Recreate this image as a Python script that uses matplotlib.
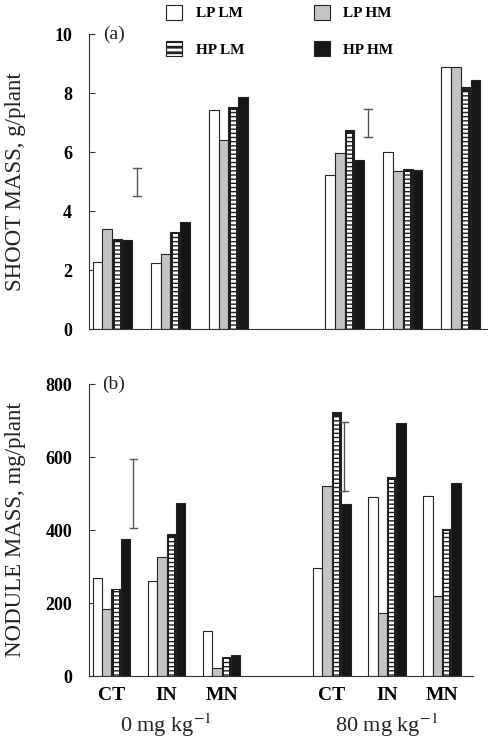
import numpy as np
import matplotlib
matplotlib.use("Agg")
import matplotlib.pyplot as plt
from matplotlib.patches import Patch
from matplotlib.legend_handler import HandlerTuple

plt.rcParams['font.family'] = ['Liberation Serif', 'DejaVu Serif']
plt.rcParams['mathtext.fontset'] = 'stix'
plt.rcParams['hatch.linewidth'] = 2.0

# data
group_pos = [0, 1, 2, 4, 5, 6]
categories = ['CT', 'IN', 'MN', 'CT', 'IN', 'MN']
series = ['LP LM', 'LP HM', 'HP LM', 'HP HM']

shoot = {
    'LP LM': [2.26, 2.23, 7.42, 5.22, 6.01, 8.87],
    'LP HM': [3.38, 2.56, 6.41, 5.98, 5.37, 8.87],
    'HP LM': [3.04, 3.30, 7.54, 6.75, 5.41, 8.21],
    'HP HM': [3.02, 3.64, 7.85, 5.73, 5.39, 8.46],
}
nodule = {
    'LP LM': [268, 260, 123, 296, 490, 493],
    'LP HM': [183, 327, 21, 520, 174, 218],
    'HP LM': [238, 388, 51, 724, 544, 404],
    'HP HM': [375, 473, 58, 472, 694, 530],
}
# LSD bars: (x position, low, high)
shoot_lsd = [(0.42, 4.52, 5.45), (4.41, 6.52, 7.45)]
nodule_lsd = [(0.40, 406, 595), (4.22, 507, 697)]

face = {'LP LM': 'white', 'LP HM': '#c4c4c4', 'HP LM': '#1e1e1e', 'HP HM': '#161616'}
width = 0.17
offsets = (np.arange(4) - 1.5) * width

fig = plt.figure(figsize=(4.88, 7.41), dpi=100)
ax1 = fig.add_axes([0.182, 0.556, 0.818, 0.398])
ax2 = fig.add_axes([0.182, 0.0877, 0.787, 0.394])


def draw_panel(ax, data, lsd, ylim, yticks, ylabel, tag):
    x = np.array(group_pos, dtype=float)
    for i, s in enumerate(series):
        ax.bar(x + offsets[i], data[s], width, color=face[s], edgecolor='#222222', linewidth=0.8, zorder=2)
        if s == 'HP LM':
            # white horizontal dashes inside the dark bar
            ax.bar(x + offsets[i], np.array(data[s]) * 0.985, width * 0.55, facecolor='none',
                   edgecolor='white', linewidth=0, hatch='----', zorder=3)
    for xp, lo, hi in lsd:
        ax.plot([xp, xp], [lo, hi], color='#555555', lw=1.0, zorder=4)
        for yy in (lo, hi):
            ax.plot([xp - 0.07, xp + 0.07], [yy, yy], color='#555555', lw=1.0, zorder=4)
    ax.set_ylim(*ylim)
    ax.set_yticks(yticks)
    ax.set_yticklabels([str(t) for t in yticks], fontweight='bold', fontsize=13)
    ax.tick_params(axis='y', direction='in', length=4, pad=12, color='#333333')
    ax.spines['top'].set_visible(False)
    ax.spines['right'].set_visible(False)
    ax.spines['left'].set_color('#333333')
    ax.spines['bottom'].set_color('#333333')
    ax.set_ylabel(ylabel, fontsize=16.5, color='#222222')
    ax.text(0.035, 1.0, tag, transform=ax.transAxes, fontsize=14, va='center', ha='left', color='#222222')


draw_panel(ax1, shoot, shoot_lsd, (0, 10), [0, 2, 4, 6, 8, 10], 'SHOOT MASS, g/plant', '(a)')
ax1.set_xlim(-0.405, 6.47)
ax1.set_xticks([])

draw_panel(ax2, nodule, nodule_lsd, (0, 800), [0, 200, 400, 600, 800], 'NODULE MASS, mg/plant', '(b)')
ax2.set_xlim(-0.41, 6.56)
ax2.set_xticks(group_pos)
ax2.set_xticklabels(categories, fontweight='bold', fontsize=14)
ax2.tick_params(axis='x', length=0, pad=8)
ax2.text(1, -0.216, '0 mg kg$^{-1}$', transform=ax2.get_xaxis_transform(), ha='center', va='bottom', fontsize=16, color='#222222')
ax2.text(5, -0.216, '80 mg kg$^{-1}$', transform=ax2.get_xaxis_transform(), ha='center', va='bottom', fontsize=16, color='#222222')
ax1.yaxis.set_label_coords(-0.158, 0.5)
ax2.yaxis.set_label_coords(-0.164, 0.5)

handles = [
    Patch(facecolor=face['LP LM'], edgecolor='#222222', linewidth=0.8),
    (Patch(facecolor='white', edgecolor='#222222', linewidth=0.8, hatch='---'),),
    Patch(facecolor=face['LP HM'], edgecolor='#222222', linewidth=0.8),
    Patch(facecolor=face['HP HM'], edgecolor='#222222', linewidth=0.8),
]
labels = ['LP LM', 'HP LM', 'LP HM', 'HP HM']
fig.legend(handles, labels, ncol=2, loc='upper left', bbox_to_anchor=(0.313, 1.012),
           frameon=False, prop={'weight': 'bold', 'size': 11}, handlelength=1.0, handleheight=1.1,
           handletextpad=0.9, columnspacing=4.6, labelspacing=1.35,
           handler_map={tuple: HandlerTuple(ndivide=None)})

fig.savefig('out.png', dpi=100)
